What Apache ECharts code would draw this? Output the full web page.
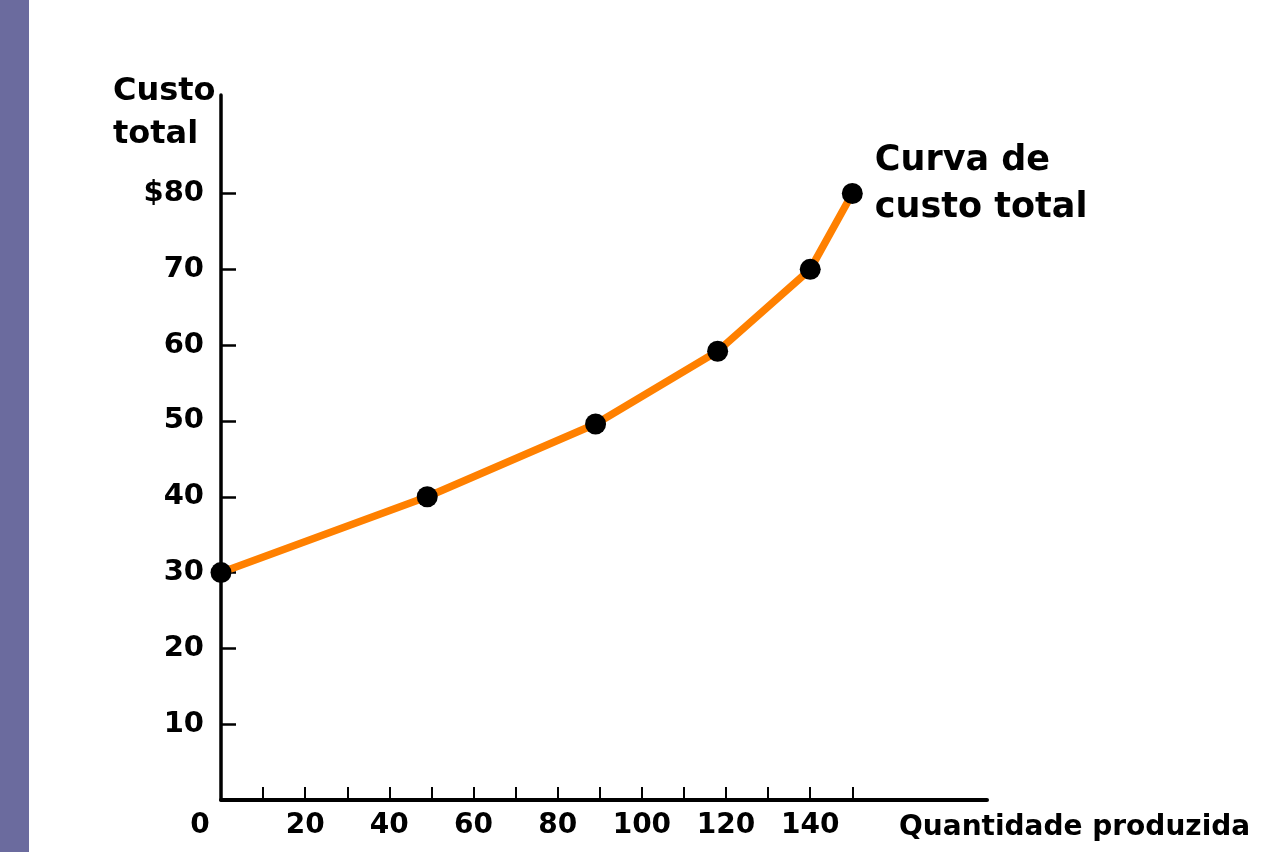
<!DOCTYPE html>
<html>
<head>
<meta charset="utf-8">
<script src="https://cdn.jsdelivr.net/npm/echarts@6/dist/echarts.min.js"></script>
<style>
html,body{margin:0;padding:0;background:#fff;}
#chart{width:1267px;height:852px;}
</style>
</head>
<body>
<div id="chart"></div>
<script>
// Data
const quantity = [0, 49, 89, 118, 140, 150];
const totalCost = [30, 40, 49.6, 59.2, 70, 80];
const xTickValues = [10, 20, 30, 40, 50, 60, 70, 80, 90, 100, 110, 120, 130, 140, 150];
const xLabelValues = [0, 20, 40, 60, 80, 100, 120, 140];
const yTickValues = [10, 20, 30, 40, 50, 60, 70, 80];
const yLabelValues = [10, 20, 30, 40, 50, 60, 70, 80];
const curveLabel = 'Curva de\ncusto total';
const yName = 'Custo\ntotal';
const xName = 'Quantidade produzida';

const FONT = 'DejaVu Sans';

const seriesData = quantity.map((q, i) => {
  const item = { value: [q, totalCost[i]] };
  if (i === quantity.length - 1) {
    item.label = {
      show: true,
      formatter: curveLabel,
      position: 'right',
      distance: 12,
      offset: [0, -9],
      fontFamily: FONT,
      fontWeight: 'bold',
      fontSize: 35,
      lineHeight: 47,
      color: '#000'
    };
  }
  return item;
});

const chart = echarts.init(document.getElementById('chart'));
chart.setOption({
  backgroundColor: '#fff',
  animation: false,
  graphic: [
    { type: 'rect', left: 0, top: 0, shape: { width: 29, height: 852 }, style: { fill: '#6B6B9E' }, z: 0 },
    { type: 'text', left: 113, top: 70, style: { text: yName, fontFamily: FONT, fontWeight: 'bold', fontSize: 32, lineHeight: 43, fill: '#000', align: 'left' } }
  ],
  grid: { left: 221, right: 280, top: 95, bottom: 52, containLabel: false },
  xAxis: {
    type: 'value',
    min: 0, max: 182, interval: 10,
    name: xName,
    nameLocation: 'end',
    nameGap: -88,
    nameTextStyle: { fontFamily: FONT, fontWeight: 'bold', fontSize: 28, color: '#000', align: 'left', verticalAlign: 'top', lineHeight: 28, padding: [14, 0, 0, 0] },
    splitLine: { show: false },
    axisLine: { show: true, onZero: false, lineStyle: { color: '#000', width: 4, cap: 'round' } },
    axisTick: { show: true, inside: true, length: 13, customValues: xTickValues, lineStyle: { color: '#000', width: 2 } },
    axisLabel: {
      show: true,
      customValues: xLabelValues,
      margin: 12,
      fontFamily: FONT, fontWeight: 'bold', fontSize: 28, lineHeight: 28, color: '#000',
      formatter: v => v === 0 ? '{z|0}' : String(v),
      rich: { z: { fontFamily: FONT, fontWeight: 'bold', fontSize: 28, lineHeight: 28, color: '#000', padding: [0, 42, 0, 0] } }
    }
  },
  yAxis: {
    type: 'value',
    min: 0, max: 93, interval: 10,
    splitLine: { show: false },
    axisLine: { show: true, onZero: false, lineStyle: { color: '#000', width: 3.5 } },
    axisTick: { show: true, inside: true, length: 15, customValues: yTickValues, lineStyle: { color: '#000', width: 2.5 } },
    axisLabel: {
      show: true,
      customValues: yLabelValues,
      margin: 17,
      fontFamily: FONT, fontWeight: 'bold', fontSize: 29, color: '#000',
      formatter: v => v === 80 ? '$80' : String(v)
    }
  },
  series: [{
    type: 'line',
    data: seriesData,
    clip: false,
    symbol: 'circle',
    symbolSize: 21,
    itemStyle: { color: '#000' },
    lineStyle: { color: '#FF8000', width: 7.5 },
    z: 3
  }]
});
</script>
</body>
</html>
